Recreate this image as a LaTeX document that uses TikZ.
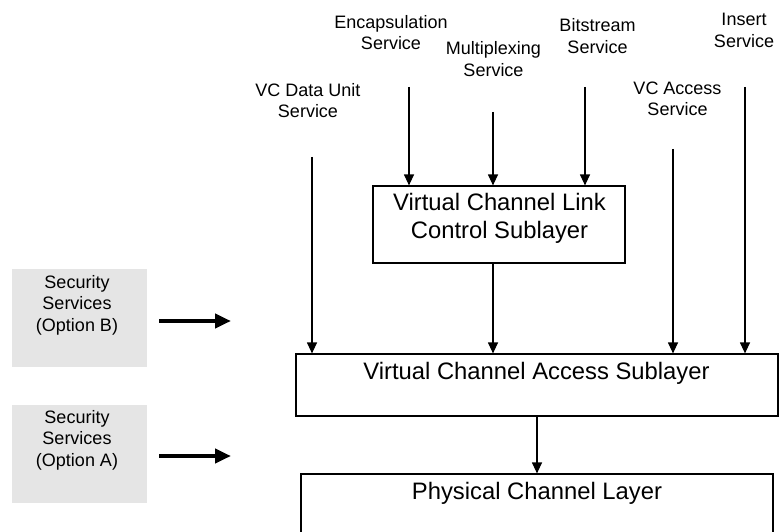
\documentclass[tikz,border=0pt]{standalone}
\usepackage{fontspec}
\setmainfont{Liberation Sans}
\usetikzlibrary{arrows.meta}
\definecolor{secgray}{HTML}{E5E5E5}
\begin{document}
\begin{tikzpicture}[x=1pt,y=-1pt,
  lbl/.style={align=center,inner sep=0pt,anchor=north,font=\fontsize{18}{21.5}\selectfont},
  btxt/.style={align=center,inner sep=0pt,anchor=north,font=\fontsize{23.8}{28}\selectfont},
  layerbox/.style={draw,line width=1.2pt,inner sep=0pt},
  secbox/.style={fill=secgray,inner sep=0pt,minimum width=135pt,minimum height=98pt},
  arr/.style={line width=1.2pt,-{Triangle[width=10pt,length=11pt]}},
  bigarr/.style={line width=4.5pt,-{Triangle[width=14pt,length=16pt]}}
]
\clip (0,0) rectangle (779,532);

% layer boxes
\node[layerbox,minimum width=252pt,minimum height=77pt] (vclc) at (499,224.5) {};
\node[layerbox,minimum width=482pt,minimum height=62pt] (vca) at (537,385) {};
\node[layerbox,minimum width=472pt,minimum height=100pt] (pcl) at (537,524) {};

\node[btxt] (vclct) at (499.5,192.7) {Virtual Channel Link\\Control Sublayer};
\node[btxt] (vcat) at (536.5,361.7) {Virtual Channel Access Sublayer};
\node[btxt] (pclt) at (537,481.7) {Physical Channel Layer};

% service labels
\node[lbl] (encl) at (391,15) {Encapsulation\\Service};
\node[lbl] (mulxl) at (493.5,41.7) {Multiplexing\\Service};
\node[lbl] (bitl) at (597.5,18.3) {Bitstream\\Service};
\node[lbl] (insl) at (744,13.3) {Insert\\Service};
\node[lbl] (vcal) at (677.5,81.7) {VC Access\\Service};
\node[lbl] (vcdul) at (308,83) {VC Data Unit\\Service};

% security boxes
\node[secbox] (secB) at (79.5,318) {};
\node[lbl] (secBt) at (77,275) {Security\\Services\\(Option B)};
\node[secbox] (secA) at (79.5,454) {};
\node[lbl] (secAt) at (77,410) {Security\\Services\\(Option A)};

% arrow start points
\coordinate (vcdutop) at (312,157);
\coordinate (enctop) at (409,87);
\coordinate (mulxtop) at (493,112);
\coordinate (bittop) at (585,87);
\coordinate (vcatop) at (673,149);
\coordinate (instop) at (745,87);
\coordinate (secBs) at (159,321);
\coordinate (secBe) at (231,321);
\coordinate (secAs) at (159,456);
\coordinate (secAe) at (231,456);

\draw[arr] (vcdutop) -- (vcdutop |- vca.north);
\draw[arr] (enctop) -- (enctop |- vclc.north);
\draw[arr] (mulxtop) -- (mulxtop |- vclc.north);
\draw[arr] (bittop) -- (bittop |- vclc.north);
\draw[arr] (vclc.south -| mulxtop) -- (mulxtop |- vca.north);
\draw[arr] (vcatop) -- (vcatop |- vca.north);
\draw[arr] (instop) -- (instop |- vca.north);
\draw[arr] (vca.south) -- (pcl.north);

\draw[bigarr] (secBs) -- (secBe);
\draw[bigarr] (secAs) -- (secAe);
\end{tikzpicture}
\end{document}
